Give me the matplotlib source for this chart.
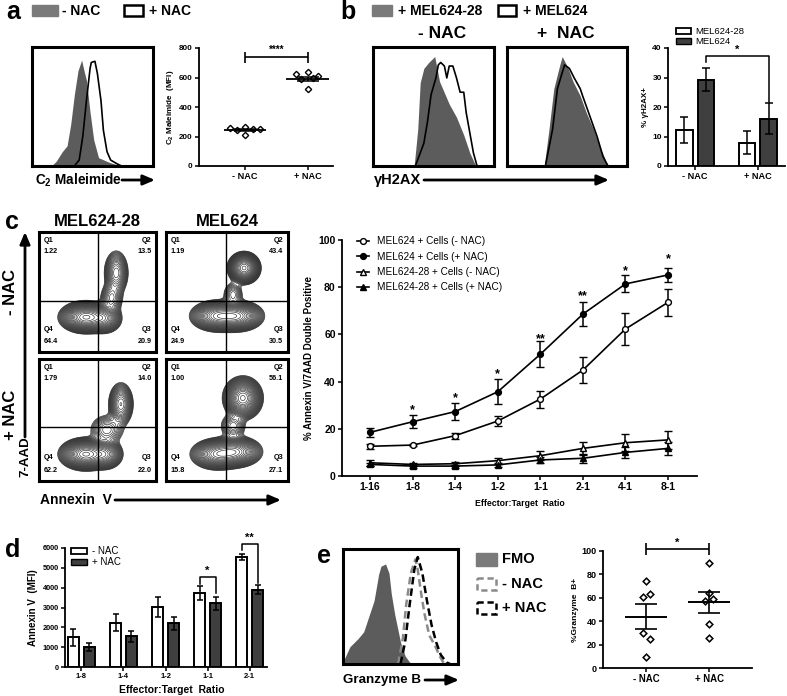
import numpy as np
import matplotlib.pyplot as plt
from matplotlib.patches import Rectangle
from matplotlib.lines import Line2D

plt.rcParams['font.family'] = ['Liberation Sans', 'DejaVu Sans']
plt.rcParams['font.weight'] = 'bold'
plt.rcParams['axes.labelweight'] = 'bold'
plt.rcParams['mathtext.fontset'] = 'custom'
plt.rcParams['mathtext.rm'] = 'Liberation Sans'
plt.rcParams['mathtext.bf'] = 'Liberation Sans:bold'

# ---------------- data ----------------
# a: histogram outlines (x in % of box, height in % of box)
a_grey_x = [0, 16, 20, 25, 29, 32, 35, 38, 41, 43, 45, 48, 51, 55, 64, 72, 100]
a_grey_y = [0, 0, 4, 12, 17, 35, 60, 80, 89, 80, 72, 45, 22, 7, 3, 0.5, 0]
a_line_x = [0, 35, 39, 42, 45, 48, 49, 52, 54, 57, 59, 62, 65, 70, 74, 100]
a_line_y = [0, 0, 5, 25, 55, 82, 87, 88, 78, 55, 30, 12, 5, 2, 0, 0]
a_groups = ['- NAC', '+ NAC']
a_minus = [259, 266, 248, 248, 243, 209]
a_plus = [625, 636, 611, 590, 600, 520]
a_mean = [245, 590]
a_sem = [8, 16]

# b: gamma H2AX histograms
b1_grey_x = [0, 34, 37, 39, 42, 46, 51, 55, 63, 69, 75, 80, 85, 100]
b1_grey_y = [0, 0, 31, 70, 82, 87, 92, 71, 52, 41, 26, 11, 0, 0]
b1_line_x = [0, 35, 42, 45, 48, 52, 54, 56, 59, 61, 63, 66, 69, 72, 75, 77, 80, 83, 86, 100]
b1_line_y = [0, 0, 19, 37, 60, 74, 85, 87, 84, 74, 84, 84, 74, 62, 62, 45, 28, 11, 0, 0]
b2_grey_x = [0, 31, 35, 39, 44, 46, 51, 55, 61, 66, 72, 77, 82, 85, 100]
b2_grey_y = [0, 0, 31, 65, 85, 92, 82, 71, 59, 45, 31, 17, 5, 0, 0]
b2_line_x = [0, 32, 38, 42, 48, 52, 56, 61, 63, 69, 75, 80, 84, 100]
b2_line_y = [0, 0, 31, 65, 85, 82, 74, 65, 59, 42, 25, 8, 0, 0]
b_groups = ['- NAC', '+ NAC']
b_mel28 = [12.3, 7.8]
b_mel28_err = [4.4, 3.9]
b_mel624 = [29.3, 16.1]
b_mel624_err = [4.0, 5.3]

# c: flow contour blobs (cx, cy, sx, sy, weight) in box fractions
c_blobs_28_minus = [(0.40, 0.29, 0.085, 0.05, 1.0), (0.56, 0.28, 0.06, 0.05, 0.4),
                    (0.66, 0.66, 0.045, 0.08, 0.25), (0.62, 0.45, 0.045, 0.06, 0.15)]
c_blobs_624_minus = [(0.42, 0.30, 0.085, 0.05, 0.7), (0.58, 0.30, 0.085, 0.05, 0.7),
                     (0.64, 0.70, 0.05, 0.05, 1.0), (0.55, 0.48, 0.04, 0.05, 0.1)]
c_blobs_28_plus = [(0.40, 0.22, 0.085, 0.05, 1.0), (0.57, 0.22, 0.06, 0.05, 0.4),
                   (0.70, 0.63, 0.045, 0.075, 0.3), (0.58, 0.42, 0.07, 0.06, 0.12)]
c_blobs_624_plus = [(0.42, 0.22, 0.085, 0.05, 0.6), (0.57, 0.24, 0.085, 0.05, 0.6),
                    (0.63, 0.68, 0.06, 0.065, 1.0), (0.55, 0.45, 0.05, 0.05, 0.12)]
c_quads_28_minus = ['1.22', '13.5', '20.9', '64.4']
c_quads_624_minus = ['1.19', '43.4', '30.5', '24.9']
c_quads_28_plus = ['1.79', '14.0', '22.0', '62.2']
c_quads_624_plus = ['1.00', '56.1', '27.1', '15.8']

# c: killing curves
c_ratios = ['1-16', '1-8', '1-4', '1-2', '1-1', '2-1', '4-1', '8-1']
c_624_minus = [12.6, 13.1, 17.1, 23.3, 32.6, 44.9, 62.3, 73.6]
c_624_minus_err = [1.0, 0.5, 1.3, 2.0, 3.6, 5.7, 6.6, 5.6]
c_624_plus = [18.5, 23.0, 27.3, 35.7, 51.6, 68.6, 81.4, 85.2]
c_624_plus_err = [1.9, 2.8, 3.7, 5.3, 5.5, 5.0, 3.6, 3.1]
c_28_minus = [5.6, 4.9, 5.2, 6.5, 8.6, 11.7, 14.1, 15.3]
c_28_minus_err = [1.2, 0.8, 0.8, 1.3, 1.9, 2.9, 3.5, 3.9]
c_28_plus = [4.9, 4.2, 4.2, 4.7, 6.8, 7.5, 10.0, 11.7]
c_28_plus_err = [0.8, 0.6, 0.6, 0.8, 1.1, 2.0, 2.5, 2.9]
c_stars = ['', '*', '*', '*', '**', '**', '*', '*']
c_star_y = [0, 28, 33, 43, 58, 76, 87, 92]

# d: Annexin V MFI bars
d_ratios = ['1-8', '1-4', '1-2', '1-1', '2-1']
d_minus = [1500, 2230, 3040, 3730, 5570]
d_minus_err = [420, 420, 500, 350, 150]
d_plus = [1030, 1540, 2200, 3210, 3890]
d_plus_err = [200, 270, 320, 330, 220]

# e: granzyme B
e_fmo_x = [0, 1, 6, 13, 18, 22, 27, 31, 33, 37, 40, 42, 45, 50, 54, 58, 61, 100]
e_fmo_y = [4, 4, 15, 22, 28, 40, 55, 78, 85, 87, 79, 61, 43, 19, 7, 1.5, 0, 0]
e_minus_x = [48, 52, 55, 59, 63, 65, 68, 71, 75, 80, 84, 88]
e_minus_y = [0, 22, 52, 79, 91, 82, 61, 43, 25, 16, 7, 0]
e_plus_x = [50, 54, 58, 62, 65, 69, 73, 77, 81, 85, 90, 93]
e_plus_y = [0, 19, 52, 82, 93, 79, 55, 34, 19, 8, 1.5, 0]
e_minus = [74.4, 61.0, 63.0, 30.0, 24.7, 9.4]
e_plus = [89.8, 64.0, 57.4, 58.8, 37.5, 26.0]
e_mean = [44.0, 56.3]
e_sem = [10.5, 9.0]

# ---------------- layout helpers ----------------
W, H = 787, 696
fig = plt.figure(figsize=(W / 100, H / 100), dpi=100)


def px_axes(x0, y0, x1, y1):
    return fig.add_axes([x0 / W, 1 - y1 / H, (x1 - x0) / W, (y1 - y0) / H])


def hist_box(x0, y0, x1, y1):
    ax = px_axes(x0, y0, x1, y1)
    ax.set_xlim(0, 100)
    ax.set_ylim(0, 100)
    ax.set_xticks([])
    ax.set_yticks([])
    for s in ax.spines.values():
        s.set_linewidth(2.2)
    return ax


def prism(ax, size=6):
    for s in ['top', 'right']:
        ax.spines[s].set_visible(False)
    for s in ['left', 'bottom']:
        ax.spines[s].set_linewidth(1.3)
    ax.tick_params(direction='out', length=3, width=1.1, labelsize=size, pad=1.5)


ov = fig.add_axes([0, 0, 1, 1], zorder=20)
ov.set_xlim(0, W)
ov.set_ylim(H, 0)
ov.axis('off')
ov.patch.set_alpha(0)


def arrow(x0, y0, x1, y1):
    ov.annotate('', xy=(x1, y1), xytext=(x0, y0),
                arrowprops=dict(arrowstyle='-|>,head_length=0.7,head_width=0.3',
                                lw=2, color='k', shrinkA=0, shrinkB=0, mutation_scale=10))


GREY = '#5c5c5c'
DARK = '#3f3f3f'

# ---------------- panel a ----------------
ov.text(6, 12, 'a', fontsize=18, va='center')
ov.add_patch(Rectangle((32, 5), 26, 11, fc='#7a7a7a', ec='#7a7a7a'))
ov.text(62, 11, '- NAC', fontsize=10, va='center')
ov.add_patch(Rectangle((124, 5), 19, 11, fc='white', ec='k', lw=1.8))
ov.text(149, 11, '+ NAC', fontsize=10, va='center')

ax = hist_box(32, 47, 153, 166)
ax.fill_between(a_grey_x, a_grey_y, color=GREY, lw=0)
ax.plot(a_line_x, a_line_y, color='k', lw=1.2)
ov.text(35, 180, r'C$_\mathbf{2}$ Maleimide', fontsize=9.8, va='center')
arrow(122, 180, 155, 180)

ax = px_axes(199, 48, 333, 166)
prism(ax, 5.8)
ax.set_xlim(-0.73, 1.4)
ax.set_ylim(0, 800)
ax.set_yticks([0, 200, 400, 600, 800])
ax.set_xticks([0, 1])
ax.set_xticklabels(a_groups, fontsize=6.6)
ax.set_ylabel(r'C$_\mathbf{2}$ Maleimide  (MFI)', fontsize=5.8, labelpad=2)
a_off_minus = [-0.24, 0.0, 0.13, 0.24, -0.13, 0.0]
a_off_plus = [-0.19, 0.0, 0.16, -0.11, 0.08, 0.0]
for i, (vals, off) in enumerate([(a_minus, a_off_minus), (a_plus, a_off_plus)]):
    ax.plot(np.array(off) + i, vals, 'D', ms=3.2, mfc='white', mec='k', mew=1.0, clip_on=False)
    ax.hlines(a_mean[i], i - 0.34, i + 0.34, color='k', lw=1.3)
    ax.vlines(i, a_mean[i] - a_sem[i], a_mean[i] + a_sem[i], color='k', lw=1.1)
    ax.hlines([a_mean[i] - a_sem[i], a_mean[i] + a_sem[i]], i - 0.17, i + 0.17, color='k', lw=1.1)
ax.hlines(739, 0, 1, color='k', lw=1.2)
ax.vlines([0, 1], 698, 770, color='k', lw=1.2)
ax.text(0.5, 752, '****', ha='center', va='bottom', fontsize=7)

# ---------------- panel b ----------------
ov.text(340, 12, 'b', fontsize=18, va='center')
ov.add_patch(Rectangle((372, 5), 20, 11, fc='#7a7a7a', ec='#7a7a7a'))
ov.text(398, 11, '+ MEL624-28', fontsize=10, va='center')
ov.add_patch(Rectangle((498, 5), 18, 11, fc='white', ec='k', lw=1.8))
ov.text(523, 11, '+ MEL624', fontsize=10, va='center')
ov.text(442, 33, '- NAC', fontsize=12.5, ha='center', va='center')
ov.text(566, 33, '+  NAC', fontsize=12.5, ha='center', va='center')

ax = hist_box(373, 47, 494, 166)
ax.fill_between(b1_grey_x, b1_grey_y, color=GREY, lw=0)
ax.plot(b1_line_x, b1_line_y, color='k', lw=1.2)
ax = hist_box(507, 47, 627, 166)
ax.fill_between(b2_grey_x, b2_grey_y, color=GREY, lw=0)
ax.plot(b2_line_x, b2_line_y, color='k', lw=1.2)
ov.text(374, 180, 'γH2AX', fontsize=10.5, va='center')
arrow(424, 180, 609, 180)

ax = px_axes(668, 48, 785, 166)
prism(ax, 6)
ax.set_xlim(-0.43, 1.43)
ax.set_ylim(0, 40)
ax.set_yticks([0, 10, 20, 30, 40])
ax.set_xticks([0, 1])
ax.set_xticklabels(b_groups, fontsize=6.6)
ax.set_ylabel('% γH2AX+', fontsize=5.8, labelpad=2)
bx = np.arange(len(b_groups))
ax.bar(bx - 0.17, b_mel28, 0.26, color='white', edgecolor='k', lw=1.4)
ax.bar(bx + 0.17, b_mel624, 0.26, color=DARK, edgecolor='k', lw=1.4)
ax.errorbar(bx - 0.17, b_mel28, yerr=b_mel28_err, fmt='none', ecolor='k', elinewidth=1.1, capsize=3, capthick=1.1)
ax.errorbar(bx + 0.17, b_mel624, yerr=b_mel624_err, fmt='none', ecolor='k', elinewidth=1.1, capsize=3, capthick=1.1)
ax.plot([0.17, 0.17, 1.17, 1.17], [35.1, 37.4, 37.4, 21.8], color='k', lw=1.1, clip_on=False)
ax.text(0.67, 37.6, '*', ha='center', va='bottom', fontsize=8)
ov.add_patch(Rectangle((676, 28), 15, 6, fc='white', ec='k', lw=1.3))
ov.text(695, 31, 'MEL624-28', fontsize=6.8, weight='normal', va='center')
ov.add_patch(Rectangle((676, 38), 15, 6, fc=DARK, ec='k', lw=1.0))
ov.text(695, 41, 'MEL624', fontsize=6.8, weight='normal', va='center')

# ---------------- panel c (contours) ----------------
ov.text(5, 222, 'c', fontsize=18, va='center')
ov.text(97, 222, 'MEL624-28', fontsize=12, ha='center', va='center')
ov.text(227, 222, 'MEL624', fontsize=12, ha='center', va='center')
cols = [(39, 156), (166, 288)]
rows = [(232, 352), (359, 481)]
vlines_c = [0.50, 0.49]
hlines_c = [0.425, 0.44]
grid_blobs = [[c_blobs_28_minus, c_blobs_624_minus], [c_blobs_28_plus, c_blobs_624_plus]]
grid_quads = [[c_quads_28_minus, c_quads_624_minus], [c_quads_28_plus, c_quads_624_plus]]
g = np.linspace(0, 1, 240)
GX, GY = np.meshgrid(g, g)
for r in range(2):
    for c in range(2):
        ax = hist_box(cols[c][0], rows[r][0], cols[c][1], rows[r][1])
        ax.set_xlim(0, 1)
        ax.set_ylim(0, 1)
        Z = np.zeros_like(GX)
        for cx, cy, sx, sy, wgt in grid_blobs[r][c]:
            Z += wgt * np.exp(-((GX - cx) ** 2 / (2 * sx ** 2) + (GY - cy) ** 2 / (2 * sy ** 2)))
        levels = Z.max() * np.geomspace(0.018, 0.95, 28)
        ax.contour(GX, GY, Z, levels=levels, colors='#2a2a2a', linewidths=0.45)
        ax.axvline(vlines_c[c], color='k', lw=1.0)
        ax.axhline(hlines_c[r], color='k', lw=1.0)
        q = grid_quads[r][c]
        kw = dict(transform=ax.transAxes, fontsize=5.2)
        ax.text(0.04, 0.93, 'Q1', va='center', **kw)
        ax.text(0.04, 0.84, q[0], va='center', **kw)
        ax.text(0.96, 0.93, 'Q2', va='center', ha='right', **kw)
        ax.text(0.96, 0.84, q[1], va='center', ha='right', **kw)
        ax.text(0.96, 0.19, 'Q3', va='center', ha='right', **kw)
        ax.text(0.96, 0.09, q[2], va='center', ha='right', **kw)
        ax.text(0.04, 0.19, 'Q4', va='center', **kw)
        ax.text(0.04, 0.09, q[3], va='center', **kw)
arrow(25, 437, 25, 232)
ov.text(25, 457, '7-AAD', fontsize=9.5, rotation=90, ha='center', va='center')
ov.text(11, 292, '- NAC', fontsize=12, rotation=90, ha='center', va='center')
ov.text(11, 415, '+ NAC', fontsize=12, rotation=90, ha='center', va='center')
ov.text(40, 500, 'Annexin  V', fontsize=10, va='center')
arrow(115, 500, 281, 500)

# ---------------- panel c (curves) ----------------
ax = px_axes(342, 240, 697, 476)
prism(ax, 7.5)
cx_ = np.arange(len(c_ratios))
ax.set_xlim(-0.66, 7.68)
ax.set_ylim(0, 100)
ax.set_yticks([0, 20, 40, 60, 80, 100])
ax.set_xticks(cx_)
ax.set_xticklabels(c_ratios)
ax.set_ylabel('% Annexin V/7AAD Double Positive', fontsize=7, labelpad=3)
series = [
    (c_624_minus, c_624_minus_err, 'o', 'white', 'MEL624 + Cells (- NAC)'),
    (c_624_plus, c_624_plus_err, 'o', 'k', 'MEL624 + Cells (+ NAC)'),
    (c_28_minus, c_28_minus_err, '^', 'white', 'MEL624-28 + Cells (- NAC)'),
    (c_28_plus, c_28_plus_err, '^', 'k', 'MEL624-28 + Cells (+ NAC)'),
]
handles = []
for vals, err, mk, fc, lab in series:
    ax.errorbar(cx_, vals, yerr=err, fmt='-', color='k', lw=1.2, marker=mk, ms=4.2,
                mfc=fc, mec='k', mew=1.0, elinewidth=1.1, capsize=2.6, capthick=1.1)
    handles.append(Line2D([], [], color='k', lw=1.2, marker=mk, ms=4.2, mfc=fc, mec='k', mew=1.0, label=lab))
for i, s in enumerate(c_stars):
    if s:
        ax.text(i, c_star_y[i], s, ha='center', va='center', fontsize=9)
ax.legend(handles=handles, loc='upper left', bbox_to_anchor=(357 / W, 1 - 236 / H),
          bbox_transform=fig.transFigure, frameon=False, borderpad=0, borderaxespad=0,
          handlelength=1.2, handletextpad=0.8, labelspacing=0.55,
          prop=dict(size=7.2, weight='normal'))
ov.text(520, 503, 'Effector:Target  Ratio', fontsize=6.3, ha='center', va='center')

# ---------------- panel d ----------------
ov.text(5, 550, 'd', fontsize=18, va='center')
ax = px_axes(65, 548, 267, 667)
prism(ax, 5.3)
dx = np.arange(len(d_ratios))
ax.set_xlim(-0.39, 4.41)
ax.set_ylim(0, 6000)
ax.set_yticks(range(0, 6001, 1000))
ax.set_xticks(dx)
ax.set_xticklabels(d_ratios, fontsize=5.5)
ax.set_ylabel('Annexin V  (MFI)', fontsize=7, labelpad=3)
ax.bar(dx - 0.19, d_minus, 0.26, color='white', edgecolor='k', lw=1.4)
ax.bar(dx + 0.19, d_plus, 0.26, color=DARK, edgecolor='k', lw=1.4)
ax.errorbar(dx - 0.19, d_minus, yerr=d_minus_err, fmt='none', ecolor='k', elinewidth=1.1, capsize=2.5, capthick=1.1)
ax.errorbar(dx + 0.19, d_plus, yerr=d_plus_err, fmt='none', ecolor='k', elinewidth=1.1, capsize=2.5, capthick=1.1)
ax.plot([2.81, 2.81, 3.19, 3.19], [4170, 4560, 4560, 3720], color='k', lw=1.1, clip_on=False)
ax.text(3.0, 4620, '*', ha='center', va='bottom', fontsize=8)
ax.plot([3.81, 3.81, 4.19, 4.19], [5910, 6220, 6220, 4220], color='k', lw=1.1, clip_on=False)
ax.text(4.0, 6280, '**', ha='center', va='bottom', fontsize=8)
ov.add_patch(Rectangle((71, 548), 16, 6, fc='white', ec='k', lw=1.3))
ov.text(92, 551, '- NAC', fontsize=7, weight='normal', va='center')
ov.add_patch(Rectangle((71, 559), 16, 6, fc=DARK, ec='k', lw=1.0))
ov.text(92, 562, '+ NAC', fontsize=7, weight='normal', va='center')
ov.text(172, 690, 'Effector:Target  Ratio', fontsize=7.5, ha='center', va='center')

# ---------------- panel e ----------------
ov.text(317, 556, 'e', fontsize=18, va='center')
ax = hist_box(343, 549, 458, 664)
ax.fill_between(e_fmo_x, e_fmo_y, color=GREY, lw=0)
ax.plot(e_minus_x, e_minus_y, color='#8a8a8a', lw=1.8, dashes=(3, 1.6))
ax.plot(e_plus_x, e_plus_y, color='k', lw=1.8, dashes=(3, 1.6))
ov.text(343, 680, 'Granzyme B', fontsize=9.6, va='center')
arrow(425, 680, 459, 680)
ov.add_patch(Rectangle((476, 553), 21, 13, fc='#7a7a7a', ec='#7a7a7a'))
ov.text(502, 559, 'FMO', fontsize=10.5, va='center')
ov.add_patch(Rectangle((477, 578), 19, 12, fc='white', ec='#8a8a8a', lw=1.8, ls=(0, (2.5, 1.5))))
ov.text(502, 584, '- NAC', fontsize=10.5, va='center')
ov.add_patch(Rectangle((477, 602), 19, 12, fc='white', ec='k', lw=1.8, ls=(0, (2.5, 1.5))))
ov.text(502, 608, '+ NAC', fontsize=10.5, va='center')

ax = px_axes(603, 551, 752, 668)
prism(ax, 6.5)
ax.set_xlim(-0.68, 1.68)
ax.set_ylim(0, 100)
ax.set_yticks([0, 20, 40, 60, 80, 100])
ax.set_xticks([0, 1])
ax.set_xticklabels(['- NAC', '+ NAC'], fontsize=6.9)
ax.set_ylabel('%Granzyme  B+', fontsize=6, labelpad=2)
e_off_minus = [0.0, -0.05, 0.06, -0.05, 0.06, 0.0]
e_off_plus = [0.0, 0.0, -0.06, 0.06, 0.0, 0.0]
for i, (vals, off) in enumerate([(e_minus, e_off_minus), (e_plus, e_off_plus)]):
    ax.plot(np.array(off) + i, vals, 'D', ms=3.4, mfc='white', mec='k', mew=1.1, clip_on=False)
    ax.hlines(e_mean[i], i - 0.33, i + 0.33, color='k', lw=1.4)
    ax.vlines(i, e_mean[i] - e_sem[i], e_mean[i] + e_sem[i], color='k', lw=1.2)
    ax.hlines([e_mean[i] - e_sem[i], e_mean[i] + e_sem[i]], i - 0.17, i + 0.17, color='k', lw=1.2)
ax.hlines(102, 0, 1, color='k', lw=1.2, clip_on=False)
ax.vlines([0, 1], 97, 107, color='k', lw=1.2, clip_on=False)
ax.text(0.5, 103, '*', ha='center', va='bottom', fontsize=8)

fig.savefig('out.png', dpi=100)
